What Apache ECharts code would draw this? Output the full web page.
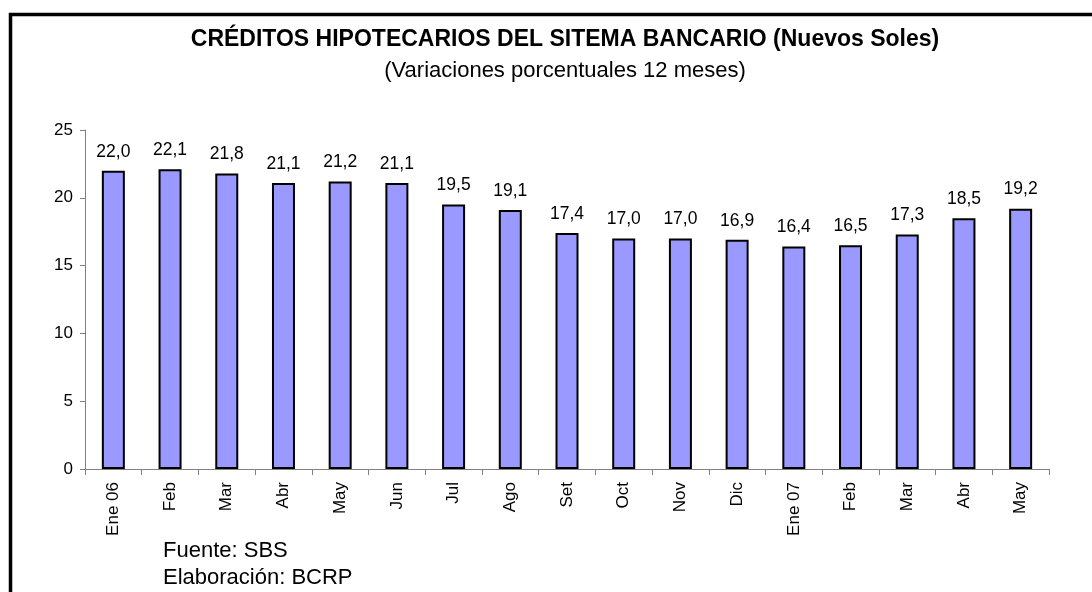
<!DOCTYPE html>
<html>
<head>
<meta charset="utf-8">
<script src="https://cdn.jsdelivr.net/npm/echarts@6/dist/echarts.min.js"></script>
<style>
  html, body { margin: 0; padding: 0; background: #fff; }
  #chart { width: 1092px; height: 592px; }
</style>
</head>
<body>
<div id="chart"></div>
<script>
// meses
var categories = ['Ene 06', 'Feb', 'Mar', 'Abr', 'May', 'Jun', 'Jul', 'Ago', 'Set', 'Oct', 'Nov', 'Dic', 'Ene 07', 'Feb', 'Mar', 'Abr', 'May']
// variaciones porcentuales 12 meses
var values = [22.0, 22.1, 21.8, 21.1, 21.2, 21.1, 19.5, 19.1, 17.4, 17.0, 17.0, 16.9, 16.4, 16.5, 17.3, 18.5, 19.2]
var yTicks = [0, 5, 10, 15, 20, 25]

var font = 'Arial, "Liberation Sans", sans-serif'
var chart = echarts.init(document.getElementById('chart'))

chart.setOption({
  animation: false,
  textStyle: { fontFamily: font },
  title: {
    text: 'CRÉDITOS HIPOTECARIOS DEL SITEMA BANCARIO (Nuevos Soles)',
    subtext: '(Variaciones porcentuales 12 meses)',
    left: 560,
    textAlign: 'center',
    top: 23,
    itemGap: 9,
    textStyle: { fontSize: 23, fontWeight: 'bold', color: '#000', fontFamily: font },
    subtextStyle: { fontSize: 22, color: '#000', fontFamily: font }
  },
  graphic: [
    {
      type: 'rect',
      shape: { x: 10.5, y: 14.5, width: 1300, height: 800 },
      style: { fill: 'none', stroke: '#000', lineWidth: 3.5 },
      silent: true
    },
    {
      type: 'text',
      left: 163,
      top: 537,
      style: { text: 'Fuente: SBS\nElaboración: BCRP', font: '22px ' + font, fill: '#000', lineHeight: 27 }
    }
  ],
  grid: { left: 85, right: 43, top: 130, bottom: 123 },
  xAxis: {
    type: 'category',
    data: categories,
    axisLine: { lineStyle: { color: '#808080', width: 1 } },
    axisTick: { show: true, length: 6, lineStyle: { color: '#808080' } },
    axisLabel: { rotate: 90, fontSize: 17, color: '#000', margin: 13, interval: 0 }
  },
  yAxis: {
    type: 'value',
    min: yTicks[0],
    max: yTicks[yTicks.length - 1],
    interval: 5,
    axisLine: { show: true, lineStyle: { color: '#808080', width: 1 } },
    axisTick: { show: true, length: 5, lineStyle: { color: '#808080' } },
    axisLabel: { fontSize: 17, color: '#000', margin: 12 },
    splitLine: { show: false }
  },
  series: [
    {
      type: 'bar',
      data: values,
      barWidth: 23,
      itemStyle: { color: '#9999FF', borderColor: '#000', borderWidth: 2 },
      label: {
        show: true,
        position: 'top',
        distance: 10,
        fontSize: 17.5,
        color: '#000',
        formatter: function (p) { return p.value.toFixed(1).replace('.', ',') }
      }
    }
  ]
})
</script>
</body>
</html>
